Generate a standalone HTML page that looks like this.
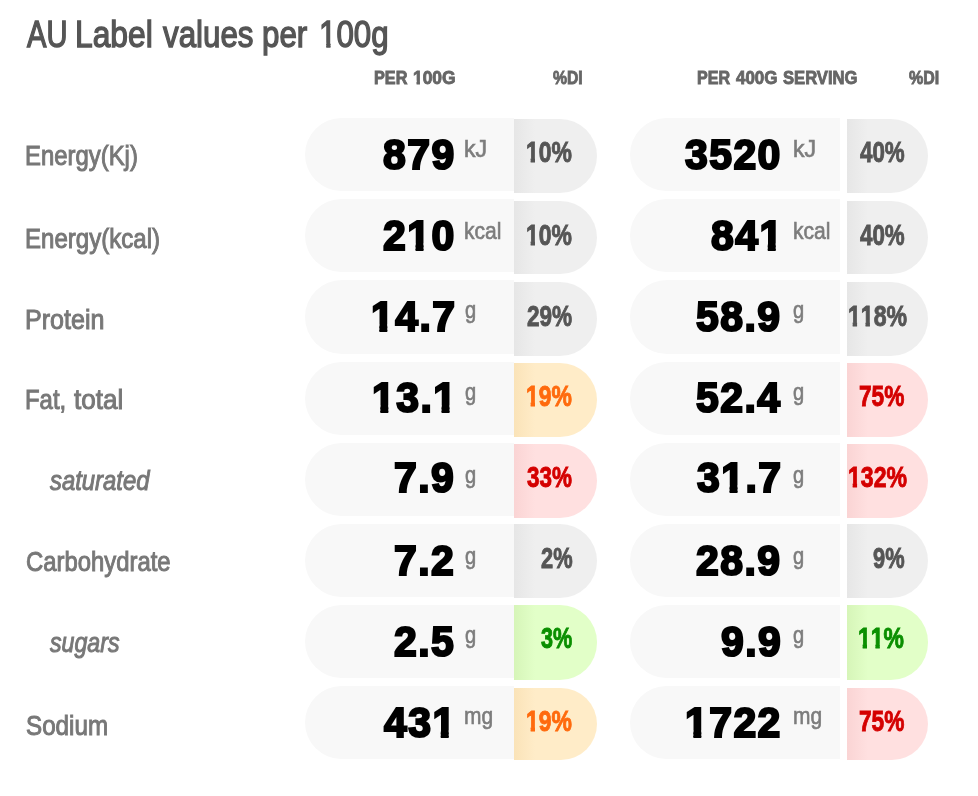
<!DOCTYPE html>
<html><head><meta charset="utf-8"><title>AU Label values per 100g</title>
<style>
html,body{margin:0;padding:0;background:#fff;}
body{width:978px;height:796px;position:relative;overflow:hidden;font-family:"Liberation Sans",sans-serif;}
.t{position:absolute;white-space:nowrap;line-height:1;transform-origin:0 0;paint-order:stroke fill;}
.p{position:absolute;background:#f8f8f8;}
.ti{font-size:37.5px;color:#555;-webkit-text-stroke:1.4px #555;}
.h{font-size:19px;font-weight:bold;color:#666;-webkit-text-stroke:0.9px #666;}
.l{font-size:28px;color:#777;-webkit-text-stroke:1px #777;}
.li{font-style:italic;}
.n{font-size:43px;font-weight:bold;color:#000;-webkit-text-stroke:2.2px #000;letter-spacing:1.5px;}
.u{font-size:22.5px;color:#7c7c7c;-webkit-text-stroke:0.6px #7c7c7c;}
.o{display:inline-block;}
.n .o{clip-path:polygon(-9px -9px,60px -9px,60px 29.4px,17.1px 29.4px,17.1px 70px,8.8px 70px,8.8px 29.4px,-9px 29.4px);}
.ti .o{clip-path:polygon(-9px -9px,60px -9px,60px 26.8px,13.8px 26.8px,13.8px 70px,8.7px 70px,8.7px 26.8px,-9px 26.8px);}
.d .o{clip-path:polygon(-9px -9px,60px -9px,60px 19.8px,11.4px 19.8px,11.4px 70px,5.9px 70px,5.9px 19.8px,-9px 19.8px);}
.h .o{clip-path:polygon(-9px -9px,60px -9px,60px 12.8px,7.6px 12.8px,7.6px 70px,3.9px 70px,3.9px 12.8px,-9px 12.8px);}
.d{font-size:29px;font-weight:bold;-webkit-text-stroke:0.9px;}
</style></head><body>

<div class="p" style="left:304.8px;top:118.1px;width:209.2px;height:72.7px;border-radius:37px 0px 0px 37px;background:#f8f8f8"></div>
<div class="p" style="left:514.0px;top:118.9px;width:83.0px;height:73.8px;border-radius:0px 37px 37px 0px;background:linear-gradient(to right,#e6e6e6 0,#efefef 21px)"></div>
<div class="p" style="left:630.1px;top:118.1px;width:210.3px;height:72.7px;border-radius:37px 0px 0px 37px;background:#f8f8f8"></div>
<div class="p" style="left:847.1px;top:118.9px;width:80.8px;height:73.8px;border-radius:0px 37px 37px 0px;background:linear-gradient(to right,#e6e6e6 0,#efefef 21px)"></div>
<div class="p" style="left:304.8px;top:199.2px;width:209.2px;height:72.8px;border-radius:37px 0px 0px 37px;background:#f8f8f8"></div>
<div class="p" style="left:514.0px;top:201.1px;width:83.0px;height:72.7px;border-radius:0px 37px 37px 0px;background:linear-gradient(to right,#e6e6e6 0,#efefef 21px)"></div>
<div class="p" style="left:630.1px;top:199.2px;width:210.3px;height:72.8px;border-radius:37px 0px 0px 37px;background:#f8f8f8"></div>
<div class="p" style="left:847.1px;top:201.1px;width:80.8px;height:72.7px;border-radius:0px 37px 37px 0px;background:linear-gradient(to right,#e6e6e6 0,#efefef 21px)"></div>
<div class="p" style="left:304.8px;top:280.2px;width:209.2px;height:73.6px;border-radius:37px 0px 0px 37px;background:#f8f8f8"></div>
<div class="p" style="left:514.0px;top:281.9px;width:83.0px;height:74.1px;border-radius:0px 37px 37px 0px;background:linear-gradient(to right,#e6e6e6 0,#efefef 21px)"></div>
<div class="p" style="left:630.1px;top:280.2px;width:210.3px;height:73.6px;border-radius:37px 0px 0px 37px;background:#f8f8f8"></div>
<div class="p" style="left:847.1px;top:281.9px;width:80.8px;height:74.1px;border-radius:0px 37px 37px 0px;background:linear-gradient(to right,#e6e6e6 0,#efefef 21px)"></div>
<div class="p" style="left:304.8px;top:362.3px;width:209.2px;height:72.7px;border-radius:37px 0px 0px 37px;background:#f8f8f8"></div>
<div class="p" style="left:514.0px;top:362.8px;width:83.0px;height:74.1px;border-radius:0px 37px 37px 0px;background:linear-gradient(to right,#fae3b8 0,#ffecc8 21px)"></div>
<div class="p" style="left:630.1px;top:362.3px;width:210.3px;height:72.7px;border-radius:37px 0px 0px 37px;background:#f8f8f8"></div>
<div class="p" style="left:847.1px;top:362.8px;width:80.8px;height:74.1px;border-radius:0px 37px 37px 0px;background:linear-gradient(to right,#fad4d4 0,#ffe0e0 21px)"></div>
<div class="p" style="left:304.8px;top:443.4px;width:209.2px;height:72.7px;border-radius:37px 0px 0px 37px;background:#f8f8f8"></div>
<div class="p" style="left:514.0px;top:443.6px;width:83.0px;height:74.0px;border-radius:0px 37px 37px 0px;background:linear-gradient(to right,#fad4d4 0,#ffe0e0 21px)"></div>
<div class="p" style="left:630.1px;top:443.4px;width:210.3px;height:72.7px;border-radius:37px 0px 0px 37px;background:#f8f8f8"></div>
<div class="p" style="left:847.1px;top:443.6px;width:80.8px;height:74.0px;border-radius:0px 37px 37px 0px;background:linear-gradient(to right,#fad4d4 0,#ffe0e0 21px)"></div>
<div class="p" style="left:304.8px;top:524.1px;width:209.2px;height:72.5px;border-radius:37px 0px 0px 37px;background:#f8f8f8"></div>
<div class="p" style="left:514.0px;top:524.2px;width:83.0px;height:74.0px;border-radius:0px 37px 37px 0px;background:linear-gradient(to right,#e6e6e6 0,#efefef 21px)"></div>
<div class="p" style="left:630.1px;top:524.1px;width:210.3px;height:72.5px;border-radius:37px 0px 0px 37px;background:#f8f8f8"></div>
<div class="p" style="left:847.1px;top:524.2px;width:80.8px;height:74.0px;border-radius:0px 37px 37px 0px;background:linear-gradient(to right,#e6e6e6 0,#efefef 21px)"></div>
<div class="p" style="left:304.8px;top:605.2px;width:209.2px;height:72.5px;border-radius:37px 0px 0px 37px;background:#f8f8f8"></div>
<div class="p" style="left:514.0px;top:605.1px;width:83.0px;height:74.8px;border-radius:0px 37px 37px 0px;background:linear-gradient(to right,#d6f5b8 0,#e2ffc8 21px)"></div>
<div class="p" style="left:630.1px;top:605.2px;width:210.3px;height:72.5px;border-radius:37px 0px 0px 37px;background:#f8f8f8"></div>
<div class="p" style="left:847.1px;top:605.1px;width:80.8px;height:74.8px;border-radius:0px 37px 37px 0px;background:linear-gradient(to right,#d6f5b8 0,#e2ffc8 21px)"></div>
<div class="p" style="left:304.8px;top:686.3px;width:209.2px;height:73.2px;border-radius:37px 0px 0px 37px;background:#f8f8f8"></div>
<div class="p" style="left:514.0px;top:687.9px;width:83.0px;height:71.9px;border-radius:0px 37px 37px 0px;background:linear-gradient(to right,#fae3b8 0,#ffecc8 21px)"></div>
<div class="p" style="left:630.1px;top:686.3px;width:210.3px;height:73.2px;border-radius:37px 0px 0px 37px;background:#f8f8f8"></div>
<div class="p" style="left:847.1px;top:687.9px;width:80.8px;height:71.9px;border-radius:0px 37px 37px 0px;background:linear-gradient(to right,#fad4d4 0,#ffe0e0 21px)"></div>
<span class="t ti" style="left:26.85px;top:16.00px;transform:scaleX(0.7759)">AU</span>
<span class="t ti" style="left:75.44px;top:16.00px;transform:scaleX(0.8478)">Label</span>
<span class="t ti" style="left:162.88px;top:16.00px;transform:scaleX(0.8349)">values</span>
<span class="t ti" style="left:262.40px;top:16.00px;transform:scaleX(0.8357)">per</span>
<span class="t ti" style="left:318.89px;top:16.00px;transform:scaleX(0.8339)"><span class="o">1</span>00g</span>
<span class="t h" style="left:374.02px;top:68.00px;transform:scaleX(0.8543)">PER</span>
<span class="t h" style="left:413.28px;top:68.00px;transform:scaleX(0.9159)"><span class="o">1</span>00G</span>
<span class="t h" style="left:552.56px;top:68.00px;transform:scaleX(0.8280)">%DI</span>
<span class="t h" style="left:697.02px;top:68.00px;transform:scaleX(0.8465)">PER</span>
<span class="t h" style="left:736.18px;top:68.00px;transform:scaleX(0.8930)">400G</span>
<span class="t h" style="left:783.35px;top:68.00px;transform:scaleX(0.8745)">SERVING</span>
<span class="t h" style="left:908.96px;top:68.00px;transform:scaleX(0.8423)">%DI</span>
<span class="t l" style="left:25.31px;top:142.00px;transform:scaleX(0.8533)">Energy(Kj)</span>
<span class="t l" style="left:25.30px;top:225.00px;transform:scaleX(0.8590)">Energy(kcal)</span>
<span class="t l" style="left:25.23px;top:306.00px;transform:scaleX(0.8958)">Protein</span>
<span class="t l" style="left:25.31px;top:386.00px;transform:scaleX(0.8539)">Fat,</span>
<span class="t l" style="left:73.52px;top:386.00px;transform:scaleX(0.9295)">total</span>
<span class="t l li" style="left:49.62px;top:467.00px;transform:scaleX(0.8524)">saturated</span>
<span class="t l" style="left:26.05px;top:548.00px;transform:scaleX(0.8523)">Carbohydrate</span>
<span class="t l li" style="left:49.61px;top:629.00px;transform:scaleX(0.8273)">sugars</span>
<span class="t l" style="left:26.15px;top:712.00px;transform:scaleX(0.8646)">Sodium</span>
<span class="t n" style="left:382.86px;top:133.00px;transform:scaleX(0.9520)">879</span>
<span class="t u" style="left:463.87px;top:138.00px;transform:scale(1.0263,1.04)">kJ</span>
<span class="t d" style="left:526.37px;top:138.00px;color:#555;transform:scaleX(0.7907)"><span class="o">1</span>0%</span>
<span class="t n" style="left:684.97px;top:133.00px;transform:scaleX(0.9520)">3520</span>
<span class="t u" style="left:792.67px;top:138.00px;transform:scale(1.0263,1.04)">kJ</span>
<span class="t d" style="left:859.66px;top:138.00px;color:#555;transform:scaleX(0.7702)">40%</span>
<span class="t n" style="left:382.91px;top:214.00px;transform:scaleX(0.9520)">2<span class="o">1</span>0</span>
<span class="t u" style="left:463.98px;top:220.00px;transform:scale(0.9362,1.04)">kcal</span>
<span class="t d" style="left:526.37px;top:221.00px;color:#555;transform:scaleX(0.7907)"><span class="o">1</span>0%</span>
<span class="t n" style="left:710.71px;top:214.00px;transform:scaleX(0.9520)">84<span class="o">1</span></span>
<span class="t u" style="left:792.78px;top:220.00px;transform:scale(0.9362,1.04)">kcal</span>
<span class="t d" style="left:859.66px;top:221.00px;color:#555;transform:scaleX(0.7702)">40%</span>
<span class="t n" style="left:370.92px;top:295.00px;transform:scaleX(0.9520)"><span class="o">1</span>4.7</span>
<span class="t u" style="left:464.59px;top:299.00px;transform:scale(0.8940,1.04)">g</span>
<span class="t d" style="left:527.07px;top:302.00px;color:#555;transform:scaleX(0.7787)">29%</span>
<span class="t n" style="left:696.36px;top:295.00px;transform:scaleX(0.9520)">58.9</span>
<span class="t u" style="left:793.39px;top:299.00px;transform:scale(0.8940,1.04)">g</span>
<span class="t d" style="left:847.57px;top:302.00px;color:#555;transform:scaleX(0.7955)"><span class="o">1</span><span class="o">1</span>8%</span>
<span class="t n" style="left:371.54px;top:376.00px;transform:scaleX(0.9520)"><span class="o">1</span>3.<span class="o">1</span></span>
<span class="t u" style="left:464.59px;top:381.00px;transform:scale(0.8940,1.04)">g</span>
<span class="t d" style="left:526.37px;top:382.00px;color:#ff6a0d;transform:scaleX(0.7907)"><span class="o">1</span>9%</span>
<span class="t n" style="left:696.36px;top:376.00px;transform:scaleX(0.9520)">52.4</span>
<span class="t u" style="left:793.39px;top:381.00px;transform:scale(0.8940,1.04)">g</span>
<span class="t d" style="left:858.97px;top:382.00px;color:#d40000;transform:scaleX(0.7821)">75%</span>
<span class="t n" style="left:394.26px;top:456.00px;transform:scaleX(0.9520)">7.9</span>
<span class="t u" style="left:464.59px;top:464.00px;transform:scale(0.8940,1.04)">g</span>
<span class="t d" style="left:527.36px;top:463.00px;color:#d40000;transform:scaleX(0.7736)">33%</span>
<span class="t n" style="left:697.19px;top:456.00px;transform:scaleX(0.9520)">3<span class="o">1</span>.7</span>
<span class="t u" style="left:793.39px;top:464.00px;transform:scale(0.8940,1.04)">g</span>
<span class="t d" style="left:847.57px;top:463.00px;color:#d40000;transform:scaleX(0.7955)"><span class="o">1</span>32%</span>
<span class="t n" style="left:394.26px;top:539.00px;transform:scaleX(0.9520)">7.2</span>
<span class="t u" style="left:464.59px;top:545.00px;transform:scale(0.8940,1.04)">g</span>
<span class="t d" style="left:540.99px;top:544.00px;color:#555;transform:scaleX(0.7532)">2%</span>
<span class="t n" style="left:696.36px;top:539.00px;transform:scaleX(0.9520)">28.9</span>
<span class="t u" style="left:793.39px;top:545.00px;transform:scale(0.8940,1.04)">g</span>
<span class="t d" style="left:873.09px;top:544.00px;color:#555;transform:scaleX(0.7532)">9%</span>
<span class="t n" style="left:394.26px;top:620.00px;transform:scaleX(0.9520)">2.5</span>
<span class="t u" style="left:464.59px;top:624.00px;transform:scale(0.8940,1.04)">g</span>
<span class="t d" style="left:541.27px;top:624.00px;color:#0a8f00;transform:scaleX(0.7464)">3%</span>
<span class="t n" style="left:720.56px;top:620.00px;transform:scaleX(0.9520)">9.9</span>
<span class="t u" style="left:793.39px;top:624.00px;transform:scale(0.8940,1.04)">g</span>
<span class="t d" style="left:858.47px;top:624.00px;color:#0a8f00;transform:scaleX(0.7906)"><span class="o">1</span><span class="o">1</span>%</span>
<span class="t n" style="left:384.41px;top:701.00px;transform:scaleX(0.9520)">43<span class="o">1</span></span>
<span class="t u" style="left:463.98px;top:705.00px;transform:scale(0.9318,1.04)">mg</span>
<span class="t d" style="left:526.37px;top:707.00px;color:#ff6a0d;transform:scaleX(0.7907)"><span class="o">1</span>9%</span>
<span class="t n" style="left:684.93px;top:701.00px;transform:scaleX(0.9520)"><span class="o">1</span>722</span>
<span class="t u" style="left:792.78px;top:705.00px;transform:scale(0.9318,1.04)">mg</span>
<span class="t d" style="left:858.97px;top:707.00px;color:#d40000;transform:scaleX(0.7821)">75%</span>
</body></html>
